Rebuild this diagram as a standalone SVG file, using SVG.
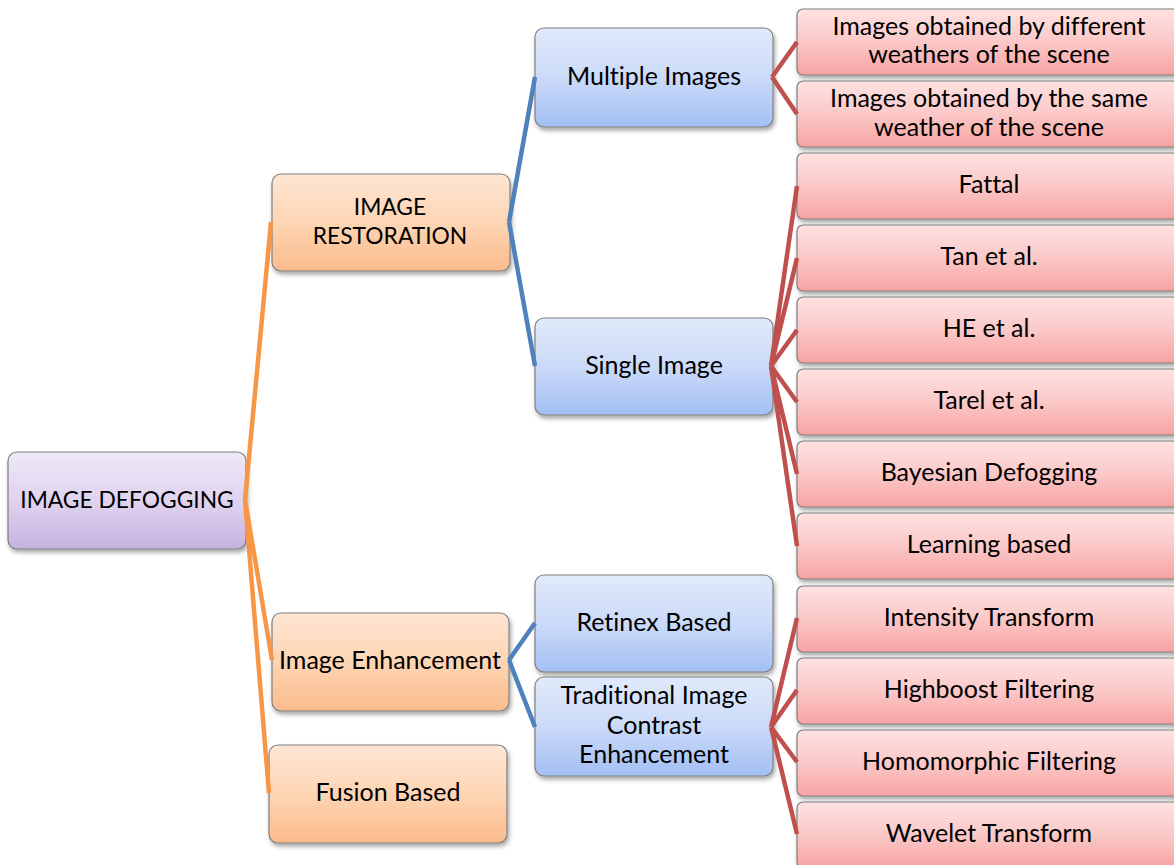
<svg xmlns="http://www.w3.org/2000/svg" width="1174" height="865" viewBox="0 0 1174 865">
  <defs>
    <linearGradient id="gPurple" x1="0" y1="0" x2="0" y2="1">
      <stop offset="0" stop-color="#eee8f7"/>
      <stop offset="0.5" stop-color="#e0d3ef"/>
      <stop offset="1" stop-color="#c6b2e0"/>
    </linearGradient>
    <linearGradient id="gOrange" x1="0" y1="0" x2="0" y2="1">
      <stop offset="0" stop-color="#fee6d4"/>
      <stop offset="0.5" stop-color="#fdd5b4"/>
      <stop offset="1" stop-color="#fbbb8b"/>
    </linearGradient>
    <linearGradient id="gBlue" x1="0" y1="0" x2="0" y2="1">
      <stop offset="0" stop-color="#e1eafb"/>
      <stop offset="0.5" stop-color="#cbdaf8"/>
      <stop offset="1" stop-color="#a3bff4"/>
    </linearGradient>
    <linearGradient id="gRed" x1="0" y1="0" x2="0" y2="1">
      <stop offset="0" stop-color="#fde2e2"/>
      <stop offset="0.5" stop-color="#fbc8c8"/>
      <stop offset="1" stop-color="#f7a3a2"/>
    </linearGradient>
    <filter id="shadow" x="-10%" y="-10%" width="125%" height="140%">
      <feDropShadow dx="1.5" dy="3" stdDeviation="2" flood-color="#000" flood-opacity="0.35"/>
    </filter>
  </defs>
  <style>
    .box { stroke: #7f7f7f; stroke-width: 1.2; filter: url(#shadow); }
    .root { fill: url(#gPurple); }
    .l1 { fill: url(#gOrange); }
    .l2 { fill: url(#gBlue); }
    .l3 { fill: url(#gRed); }
    text { font-family: Lato, "Liberation Sans", sans-serif; font-size: 25px; fill: #000; text-anchor: middle; font-variant-ligatures: none; }
    text.caps { font-size: 22.8px; }
    .c-orange { stroke: #f79646; }
    .c-blue { stroke: #4f81bd; }
    .c-red { stroke: #c0504d; }
    #connectors path { fill: none; stroke-width: 4.5; stroke-linejoin: round; stroke-linecap: butt; }
  </style>

  <rect width="1174" height="865" fill="#ffffff"/>

  <!-- root -->
  <g id="node-defogging">
    <rect class="box root" x="8" y="452" width="238" height="97" rx="9"/>
    <text class="caps" x="127" y="508">IMAGE DEFOGGING</text>
  </g>

  <!-- first level -->
  <g id="node-restoration">
    <rect class="box l1" x="272" y="174" width="238" height="97" rx="9"/>
    <text class="caps" x="390" y="215">IMAGE</text>
    <text class="caps" x="390" y="244">RESTORATION</text>
  </g>
  <g id="node-enhancement">
    <rect class="box l1" x="272" y="613" width="237" height="98" rx="9"/>
    <text x="390" y="669">Image Enhancement</text>
  </g>
  <g id="node-fusion">
    <rect class="box l1" x="269" y="745" width="238" height="98" rx="9"/>
    <text x="388" y="801">Fusion Based</text>
  </g>

  <!-- second level -->
  <g id="node-multiple">
    <rect class="box l2" x="535" y="28" width="238" height="99" rx="9"/>
    <text x="654" y="85">Multiple Images</text>
  </g>
  <g id="node-single">
    <rect class="box l2" x="535" y="318" width="238" height="97" rx="9"/>
    <text x="654" y="374">Single Image</text>
  </g>
  <g id="node-retinex">
    <rect class="box l2" x="535" y="575" width="238" height="97" rx="9"/>
    <text x="654" y="631">Retinex Based</text>
  </g>
  <g id="node-traditional">
    <rect class="box l2" x="535" y="677" width="238" height="99" rx="9"/>
    <text x="654" y="704">Traditional Image</text>
    <text x="654" y="734">Contrast</text>
    <text x="654" y="763">Enhancement</text>
  </g>

  <!-- leaf methods -->
  <g id="node-different-weathers">
    <rect class="box l3" x="797" y="9" width="390" height="66" rx="6"/>
    <text x="989" y="35">Images obtained by different</text>
    <text x="989" y="63">weathers of the scene</text>
  </g>
  <g id="node-same-weather">
    <rect class="box l3" x="797" y="81" width="390" height="66" rx="6"/>
    <text x="989" y="107">Images obtained by the same</text>
    <text x="989" y="136">weather of the scene</text>
  </g>
  <g id="node-fattal">
    <rect class="box l3" x="797" y="153" width="390" height="66" rx="6"/>
    <text x="989" y="193">Fattal</text>
  </g>
  <g id="node-tan">
    <rect class="box l3" x="797" y="225" width="390" height="66" rx="6"/>
    <text x="989" y="265">Tan et al.</text>
  </g>
  <g id="node-he">
    <rect class="box l3" x="797" y="297" width="390" height="66" rx="6"/>
    <text x="989" y="337">HE et al.</text>
  </g>
  <g id="node-tarel">
    <rect class="box l3" x="797" y="369" width="390" height="66" rx="6"/>
    <text x="989" y="409">Tarel et al.</text>
  </g>
  <g id="node-bayesian">
    <rect class="box l3" x="797" y="441" width="390" height="66" rx="6"/>
    <text x="989" y="481">Bayesian Defogging</text>
  </g>
  <g id="node-learning">
    <rect class="box l3" x="797" y="513" width="390" height="66" rx="6"/>
    <text x="989" y="553">Learning based</text>
  </g>
  <g id="node-intensity">
    <rect class="box l3" x="797" y="586" width="390" height="66" rx="6"/>
    <text x="989" y="626">Intensity Transform</text>
  </g>
  <g id="node-highboost">
    <rect class="box l3" x="797" y="658" width="390" height="66" rx="6"/>
    <text x="989" y="698">Highboost Filtering</text>
  </g>
  <g id="node-homomorphic">
    <rect class="box l3" x="797" y="730" width="390" height="66" rx="6"/>
    <text x="989" y="770">Homomorphic Filtering</text>
  </g>
  <g id="node-wavelet">
    <rect class="box l3" x="797" y="802" width="390" height="66" rx="6"/>
    <text x="989" y="842">Wavelet Transform</text>
  </g>

  <!-- branch lines -->
  <g id="connectors">
    <path class="c-orange" d="M245 500 L271 222 M245 500 L272 660 M245 500 L269 793"/>
    <path class="c-blue" d="M509 222 L535 77 M509 222 L535 366"/>
    <path class="c-blue" d="M509 660 L535 623 M509 660 L535 727"/>
    <path class="c-red" d="M772 77 L797 42 M772 77 L797 114"/>
    <path class="c-red" d="M771 366 L797 186 M771 366 L797 258 M771 366 L797 330 M771 366 L797 402 M771 366 L797 474 M771 366 L797 546"/>
    <path class="c-red" d="M771 727 L797 618 M771 727 L797 690 M771 727 L797 762 M771 727 L797 834"/>
  </g>
</svg>
